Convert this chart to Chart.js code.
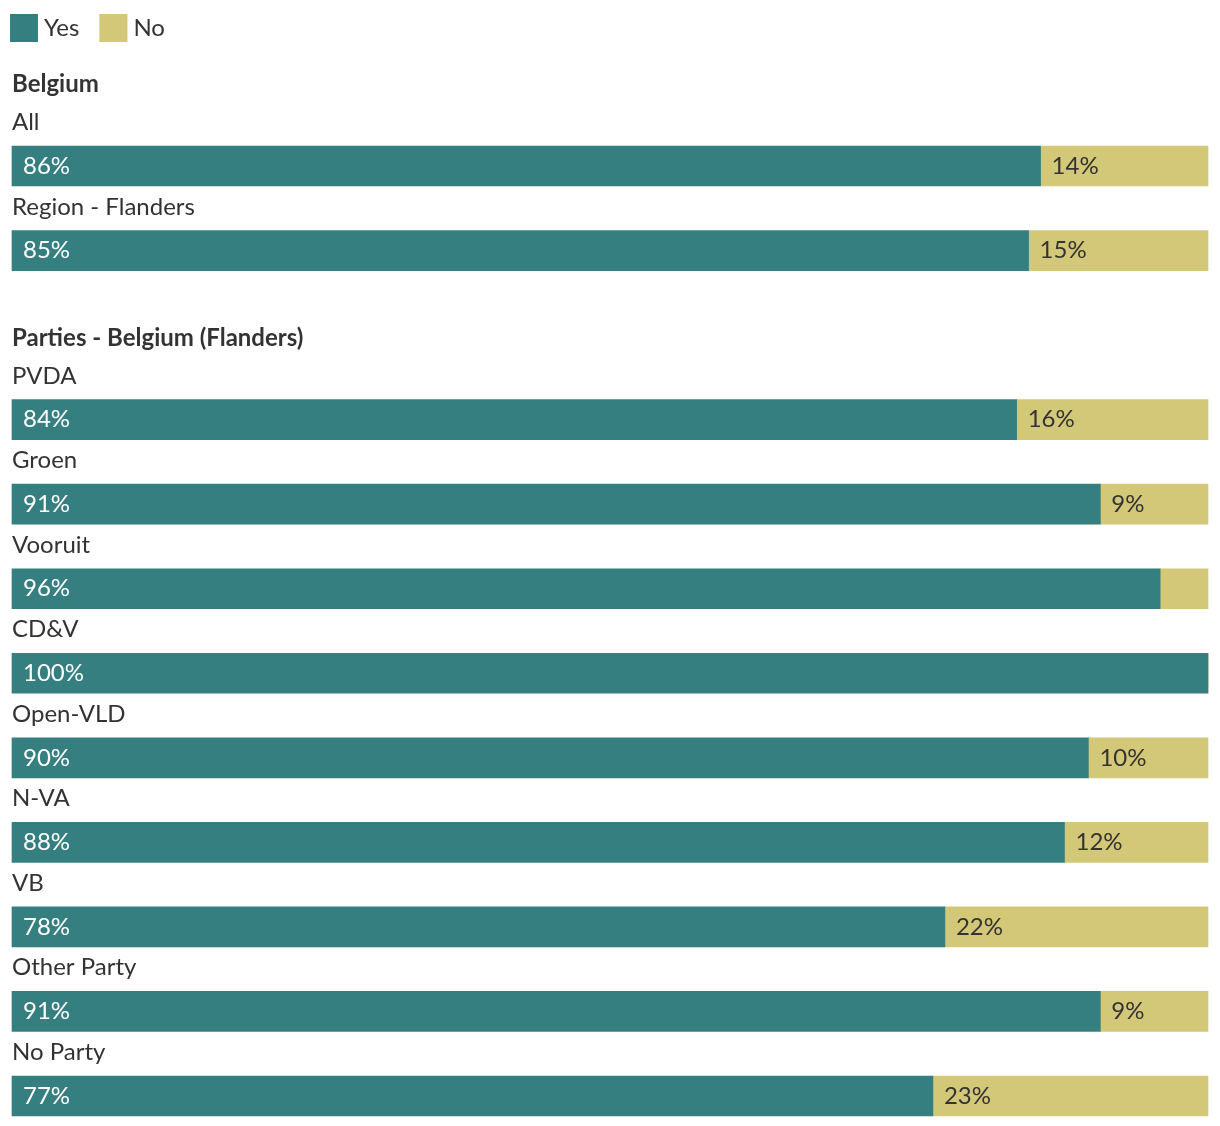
<!DOCTYPE html>
<html>
<head>
<meta charset="utf-8">
<script src="https://cdn.jsdelivr.net/npm/chart.js@4"></script>
<style>
  html, body { margin: 0; padding: 0; background: #fff; overflow: hidden; }
  canvas { display: block; }
</style>
</head>
<body>
<canvas id="poll-chart" width="1220" height="1126"></canvas>
<script>
// --- Data ---
const categories = ['All', 'Region - Flanders', '', 'PVDA', 'Groen', 'Vooruit', 'CD&V', 'Open-VLD', 'N-VA', 'VB', 'Other Party', 'No Party'];
const yesValues = [86, 85, null, 84, 91, 96, 100, 90, 88, 78, 91, 77];
const noValues = [14, 15, null, 16, 9, 4, 0, 10, 12, 22, 9, 23];
const sectionTitles = ['Belgium', 'Parties - Belgium (Flanders)'];
const sectionStarts = [0, 3];

const YES_COLOR = '#367f80';
const NO_COLOR = '#d2c877';
const TEXT_COLOR = '#333333';
const FONT = 'Lato, "Noto Sans", sans-serif';

// draws legend, section headers, row labels and values
const labelPlugin = {
    id: 'rowLabels',
    afterDatasetsDraw(chart) {
        const ctx = chart.ctx;
        const yScale = chart.scales.y;
        const xScale = chart.scales.x;
        const left = chart.chartArea.left;
        ctx.save();

        // legend
        ctx.font = '24px ' + FONT;
        ctx.textBaseline = 'alphabetic';
        let lx = 10;
        chart.data.datasets.forEach(ds => {
            ctx.fillStyle = ds.backgroundColor;
            ctx.fillRect(lx, 14, 28, 28);
            ctx.fillStyle = TEXT_COLOR;
            ctx.textAlign = 'left';
            ctx.fillText(ds.label, lx + 34, 36);
            lx += 34 + ctx.measureText(ds.label).width + 20;
        });

        // row labels above bars
        categories.forEach((cat, i) => {
            if (!cat) return;
            const cy = yScale.getPixelForValue(i);
            ctx.font = '24px ' + FONT;
            ctx.fillStyle = TEXT_COLOR;
            ctx.textAlign = 'left';
            ctx.textBaseline = 'alphabetic';
            ctx.fillText(cat, left, cy - 20 - 16);
        });

        // section headers
        sectionTitles.forEach((title, s) => {
            const cy = yScale.getPixelForValue(sectionStarts[s]);
            ctx.font = 'bold 24px ' + FONT;
            ctx.fillStyle = TEXT_COLOR;
            ctx.fillText(title, left, cy - 20 - 16 - 38);
        });

        // values inside segments
        ctx.font = '24px ' + FONT;
        ctx.textBaseline = 'middle';
        categories.forEach((cat, i) => {
            if (yesValues[i] == null) return;
            const cy = yScale.getPixelForValue(i);
            const x0 = xScale.getPixelForValue(0);
            const x1 = xScale.getPixelForValue(yesValues[i]);
            if (yesValues[i] >= 5) {
                ctx.fillStyle = '#ffffff';
                ctx.fillText(yesValues[i] + '%', x0 + 11, cy);
            }
            if (noValues[i] >= 5) {
                ctx.fillStyle = TEXT_COLOR;
                ctx.fillText(noValues[i] + '%', x1 + 11, cy);
            }
        });
        ctx.restore();
    }
};

document.addEventListener('DOMContentLoaded', () => {
    const chartCtx = document.getElementById('poll-chart').getContext('2d');

    new Chart(chartCtx, {
        type: 'bar',
        data: {
            labels: categories,
            datasets: [
                { label: 'Yes', data: yesValues, backgroundColor: YES_COLOR, barThickness: 40, borderWidth: 0, clip: false },
                { label: 'No', data: noValues, backgroundColor: NO_COLOR, barThickness: 40, borderWidth: 0, clip: false }
            ]
        },
        options: {
            indexAxis: 'y',
            responsive: false,
            animation: false,
            layout: { padding: { left: 12, right: 12, top: 166, bottom: 30 } },
            scales: {
                x: { stacked: true, min: 0, max: 100, display: false },
                y: { stacked: true, offset: false, display: false, grid: { display: false } }
            },
            plugins: {
                legend: { display: false },
                tooltip: { enabled: false }
            }
        },
        plugins: [labelPlugin]
    });
});
</script>
</body>
</html>
